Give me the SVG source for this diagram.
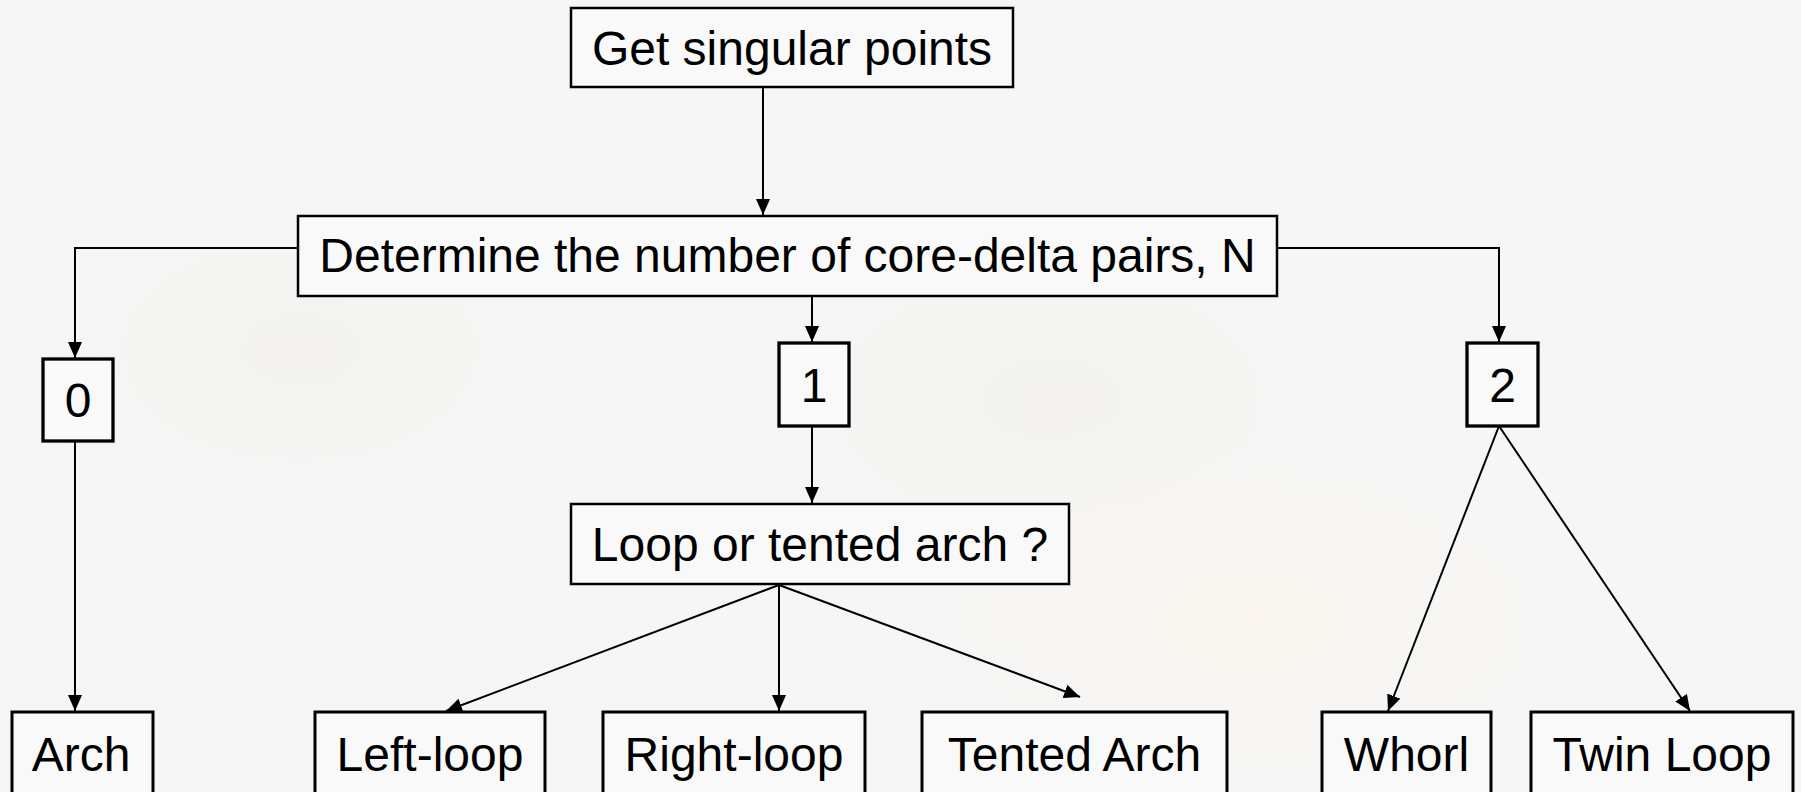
<svg xmlns="http://www.w3.org/2000/svg" width="1801" height="792" viewBox="0 0 1801 792">
<defs>
<marker id="arr" markerUnits="userSpaceOnUse" markerWidth="18" markerHeight="16" refX="16" refY="7" orient="auto">
<path d="M0,0 L16,7 L0,14 Z" fill="#000"/>
</marker>
<radialGradient id="wm1" cx="0.5" cy="0.5" r="0.5">
<stop offset="0" stop-color="#f3f2ee"/>
<stop offset="1" stop-color="#f6f6f6" stop-opacity="0"/>
</radialGradient>
<radialGradient id="wm2" cx="0.5" cy="0.5" r="0.5">
<stop offset="0" stop-color="#faf5ee"/>
<stop offset="1" stop-color="#f6f6f6" stop-opacity="0"/>
</radialGradient>
</defs>
<style>
.box{fill:#f9f9f9;stroke:#000;stroke-width:2.5}
.sbox{fill:#f9f9f9;stroke:#000;stroke-width:3.3}
.bbox{fill:#f9f9f9;stroke:#000;stroke-width:3}
.lbl{font-family:"Liberation Sans",Arial,sans-serif;font-size:48px;fill:#000;text-anchor:middle}
.con{fill:none;stroke:#000;stroke-width:2;marker-end:url(#arr)}
</style>
<rect width="1801" height="792" fill="#f6f6f6"/>
<ellipse cx="1050" cy="400" rx="380" ry="230" fill="url(#wm1)"/>
<ellipse cx="1250" cy="620" rx="420" ry="220" fill="url(#wm2)"/>
<ellipse cx="300" cy="350" rx="320" ry="200" fill="url(#wm1)"/>

<g id="connectors">
<path class="con" d="M763,87 L763,215"/>
<path class="con" d="M298,248 L75,248 L75,358"/>
<path class="con" d="M812,297 L812,342"/>
<path class="con" d="M1277,248 L1499,248 L1499,342"/>
<path class="con" d="M75,441 L75,711"/>
<path class="con" d="M812,426 L812,503"/>
<path class="con" d="M779,585 L446,711"/>
<path class="con" d="M779,585 L779,711"/>
<path class="con" d="M779,585 L1080,697"/>
<path class="con" d="M1499,426 L1388,711"/>
<path class="con" d="M1499,426 L1690,711"/>
</g>

<g id="get-singular-points">
<rect class="box" x="571" y="8" width="442" height="79"/>
<text class="lbl" x="792" y="65">Get singular points</text>
</g>
<g id="determine">
<rect class="box" x="298" y="216" width="979" height="80"/>
<text class="lbl" x="787.5" y="272">Determine the number of core-delta pairs, N</text>
</g>
<g id="n0">
<rect class="sbox" x="43" y="359" width="70" height="82"/>
<text class="lbl" x="78" y="417">0</text>
</g>
<g id="n1">
<rect class="sbox" x="779" y="343" width="70" height="83"/>
<text class="lbl" x="814" y="402">1</text>
</g>
<g id="n2">
<rect class="sbox" x="1467" y="343" width="71" height="83"/>
<text class="lbl" x="1502.5" y="402">2</text>
</g>
<g id="loop-or-tented">
<rect class="box" x="571" y="504" width="498" height="80"/>
<text class="lbl" x="820" y="561">Loop or tented arch ?</text>
</g>
<g id="arch">
<rect class="bbox" x="12" y="712" width="141" height="95"/>
<text class="lbl" x="81" y="771">Arch</text>
</g>
<g id="left-loop">
<rect class="bbox" x="315" y="712" width="230" height="95"/>
<text class="lbl" x="430" y="771">Left-loop</text>
</g>
<g id="right-loop">
<rect class="bbox" x="603" y="712" width="262" height="95"/>
<text class="lbl" x="734" y="771">Right-loop</text>
</g>
<g id="tented-arch">
<rect class="bbox" x="922" y="712" width="305" height="95"/>
<text class="lbl" x="1074.5" y="771">Tented Arch</text>
</g>
<g id="whorl">
<rect class="bbox" x="1322" y="712" width="169" height="95"/>
<text class="lbl" x="1406.5" y="771">Whorl</text>
</g>
<g id="twin-loop">
<rect class="bbox" x="1531" y="712" width="262" height="95"/>
<text class="lbl" x="1662" y="771">Twin Loop</text>
</g>
</svg>
